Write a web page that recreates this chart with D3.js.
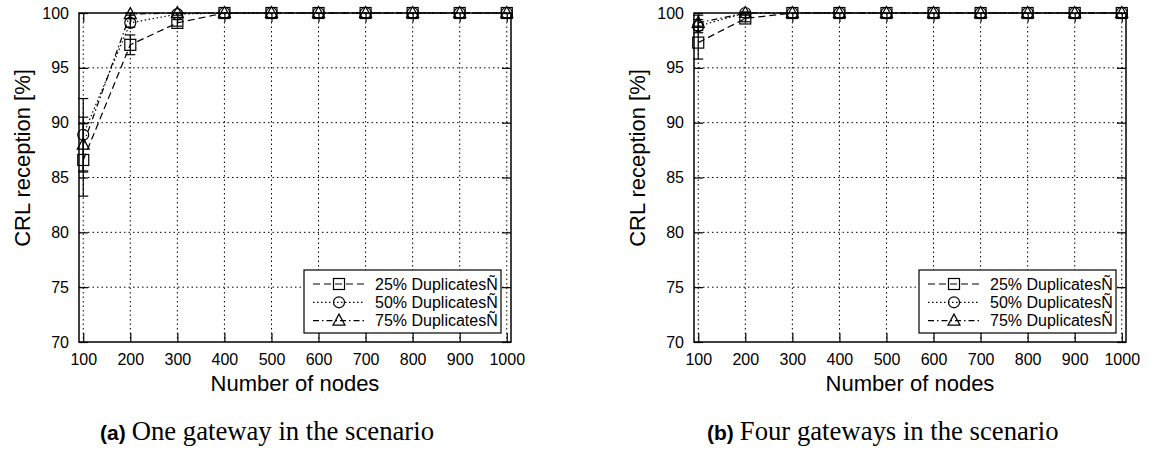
<!DOCTYPE html>
<html>
<head>
<meta charset="utf-8">
<script src="https://cdn.jsdelivr.net/npm/d3@7"></script>
<style>
  html, body { margin: 0; padding: 0; background: #fff; }
  svg { display: block; }
  .tick-label { font-family: "Liberation Sans", Arial, sans-serif; font-size: 16px; fill: #000; }
  .axis-title { font-family: "Liberation Sans", Arial, sans-serif; font-size: 22px; fill: #000; }
  .legend-text { font-family: "Liberation Sans", Arial, sans-serif; font-size: 16px; fill: #000; }
  .cap-tag { font-family: "Liberation Sans", Arial, sans-serif; font-weight: bold; font-size: 21px; fill: #000; }
  .cap-text { font-family: "Liberation Serif", "Times New Roman", serif; font-size: 26.7px; fill: #000; }
</style>
</head>
<body>
<svg id="chart" width="1150" height="450"></svg>
<script>
// Number of nodes in the network (x axis)
const nodes = [100, 200, 300, 400, 500, 600, 700, 800, 900, 1000];
const xTicks = [100, 200, 300, 400, 500, 600, 700, 800, 900, 1000];
const yTicks = [70, 75, 80, 85, 90, 95, 100];
const seriesLabels = ["25% DuplicatesÑ", "50% DuplicatesÑ", "75% DuplicatesÑ"];

// One gateway: CRL reception [%] (mean and half-width of the error bar)
const oneGw25    = [86.6, 97.1, 99.1, 100, 100, 100, 100, 100, 100, 100];
const oneGw25Err = [3.3, 0.9, 0.3, 0, 0, 0, 0, 0, 0, 0];
const oneGw50    = [88.9, 99.1, 99.9, 100, 100, 100, 100, 100, 100, 100];
const oneGw50Err = [3.3, 0.4, 0.1, 0, 0, 0, 0, 0, 0, 0];
const oneGw75    = [88.0, 99.9, 100, 100, 100, 100, 100, 100, 100, 100];
const oneGw75Err = [2.5, 0.1, 0, 0, 0, 0, 0, 0, 0, 0];

// Four gateways
const fourGw25    = [97.3, 99.5, 100, 100, 100, 100, 100, 100, 100, 100];
const fourGw25Err = [1.5, 0.3, 0, 0, 0, 0, 0, 0, 0, 0];
const fourGw50    = [98.8, 100, 100, 100, 100, 100, 100, 100, 100, 100];
const fourGw50Err = [0.6, 0.1, 0, 0, 0, 0, 0, 0, 0, 0];
const fourGw75    = [99.1, 100, 100, 100, 100, 100, 100, 100, 100, 100];
const fourGw75Err = [0.7, 0, 0, 0, 0, 0, 0, 0, 0, 0];

// Line and marker style of each duplicate ratio
const styles = [
  { dash: "7,4", marker: "square" },
  { dash: "1.5,2.5", marker: "circle" },
  { dash: "6,3,1.5,3", marker: "triangle" }
];

const svg = d3.select("#chart");

function drawMarker(g, kind, cx, cy) {
  const s = 5.5;
  if (kind === "square") {
    g.append("rect").attr("x", cx - s).attr("y", cy - s)
      .attr("width", 2 * s).attr("height", 2 * s);
  } else if (kind === "circle") {
    g.append("circle").attr("cx", cx).attr("cy", cy).attr("r", s);
  } else {
    g.append("path").attr("d",
      `M${cx},${cy - s - 1}L${cx + s + 0.5},${cy + s - 1}L${cx - s - 0.5},${cy + s - 1}Z`);
  }
}

function drawPanel(cfg) {
  const left = cfg.left, right = cfg.left + 432, top = 13, bottom = 342;
  const x = d3.scaleLinear().domain([91, 1009]).range([left, right]);
  const y = d3.scaleLinear().domain([70, 100]).range([bottom, top]);
  const g = svg.append("g");

  // dotted grid
  const grid = g.append("g").attr("stroke", "#000").attr("stroke-width", 1)
    .attr("stroke-dasharray", "1.5,3");
  xTicks.forEach(t => grid.append("line")
    .attr("x1", x(t)).attr("x2", x(t)).attr("y1", top).attr("y2", bottom));
  yTicks.filter(t => t > 70 && t < 100).forEach(t => grid.append("line")
    .attr("x1", left).attr("x2", right).attr("y1", y(t)).attr("y2", y(t)));

  // axes with inward ticks, mirrored on the opposite sides
  const tl = 9;
  const fmt = d3.format("d");
  const axB = g.append("g").attr("transform", `translate(0,${bottom})`)
    .call(d3.axisBottom(x).tickValues(xTicks).tickFormat(fmt).tickSize(-tl).tickPadding(14));
  const axT = g.append("g").attr("transform", `translate(0,${top})`)
    .call(d3.axisTop(x).tickValues(xTicks).tickSize(-tl).tickFormat(""));
  const axL = g.append("g").attr("transform", `translate(${left},0)`)
    .call(d3.axisLeft(y).tickValues(yTicks).tickFormat(fmt).tickSize(-tl).tickPadding(19));
  const axR = g.append("g").attr("transform", `translate(${right},0)`)
    .call(d3.axisRight(y).tickValues(yTicks).tickSize(-tl).tickFormat(""));
  [axB, axT, axL, axR].forEach(a => {
    a.select(".domain").remove();
    a.selectAll(".tick line").attr("stroke", "#000").attr("stroke-width", 1.2);
    a.selectAll(".tick text").attr("class", "tick-label").attr("font-family", null).attr("font-size", null);
  });
  axB.selectAll(".tick text").attr("dy", "0.71em").attr("y", 12);
  axL.selectAll(".tick text").attr("x", -10);

  // frame
  g.append("rect").attr("x", left).attr("y", top)
    .attr("width", right - left).attr("height", bottom - top)
    .attr("fill", "none").attr("stroke", "#000").attr("stroke-width", 1.5);

  // axis titles
  g.append("text").attr("class", "axis-title").attr("text-anchor", "middle")
    .attr("x", (left + right) / 2).attr("y", 391).text("Number of nodes");
  g.append("text").attr("class", "axis-title").attr("text-anchor", "middle")
    .attr("transform", `translate(${left - 49},158) rotate(-90)`)
    .text("CRL reception [%]");

  // legend box
  const lgW = 197, lgH = 63;
  const lgX = right - 10 - lgW, lgY = bottom - 9 - lgH;
  g.append("rect").attr("x", lgX).attr("y", lgY).attr("width", lgW).attr("height", lgH)
    .attr("fill", "#fff").attr("stroke", "#000").attr("stroke-width", 1.2);

  // series
  cfg.series.forEach((s, i) => {
    const st = styles[i];
    const sg = g.append("g").attr("fill", "none").attr("stroke", "#000").attr("stroke-width", 1.2);
    const pts = nodes.map((n, j) => ({ n, v: s.values[j], e: s.errors[j] }));
    sg.append("path").attr("stroke-dasharray", st.dash)
      .attr("d", d3.line().x(d => x(d.n)).y(d => y(d.v))(pts));
    pts.forEach(d => {
      const px = x(d.n);
      if (d.e > 0) {
        const y1 = y(d.v - d.e), y2 = y(d.v + d.e);
        sg.append("line").attr("x1", px).attr("x2", px).attr("y1", y1).attr("y2", y2);
        sg.append("line").attr("x1", px - 5).attr("x2", px + 5).attr("y1", y1).attr("y2", y1);
        sg.append("line").attr("x1", px - 5).attr("x2", px + 5).attr("y1", y2).attr("y2", y2);
      }
      drawMarker(sg, st.marker, px, y(d.v));
    });

    // legend entry
    const ry = lgY + 14 + i * 18.3;
    const lg = g.append("g").attr("fill", "none").attr("stroke", "#000").attr("stroke-width", 1.2);
    lg.append("line").attr("x1", lgX + 9).attr("x2", lgX + 61).attr("y1", ry).attr("y2", ry)
      .attr("stroke-dasharray", st.dash);
    drawMarker(lg, st.marker, lgX + 35, ry);
    g.append("text").attr("class", "legend-text").attr("x", lgX + 71).attr("y", ry + 5.5)
      .text(seriesLabels[i]);
  });

  // caption
  const cap = g.append("text").attr("x", cfg.capX).attr("y", 440);
  cap.append("tspan").attr("class", "cap-tag").text(cfg.tag);
  cap.append("tspan").attr("class", "cap-text").attr("dx", 6).text(cfg.caption);
}

drawPanel({
  left: 79, capX: 100, tag: "(a)", caption: "One gateway in the scenario",
  series: [
    { values: oneGw25, errors: oneGw25Err },
    { values: oneGw50, errors: oneGw50Err },
    { values: oneGw75, errors: oneGw75Err }
  ]
});
drawPanel({
  left: 694, capX: 707, tag: "(b)", caption: "Four gateways in the scenario",
  series: [
    { values: fourGw25, errors: fourGw25Err },
    { values: fourGw50, errors: fourGw50Err },
    { values: fourGw75, errors: fourGw75Err }
  ]
});
</script>
</body>
</html>
